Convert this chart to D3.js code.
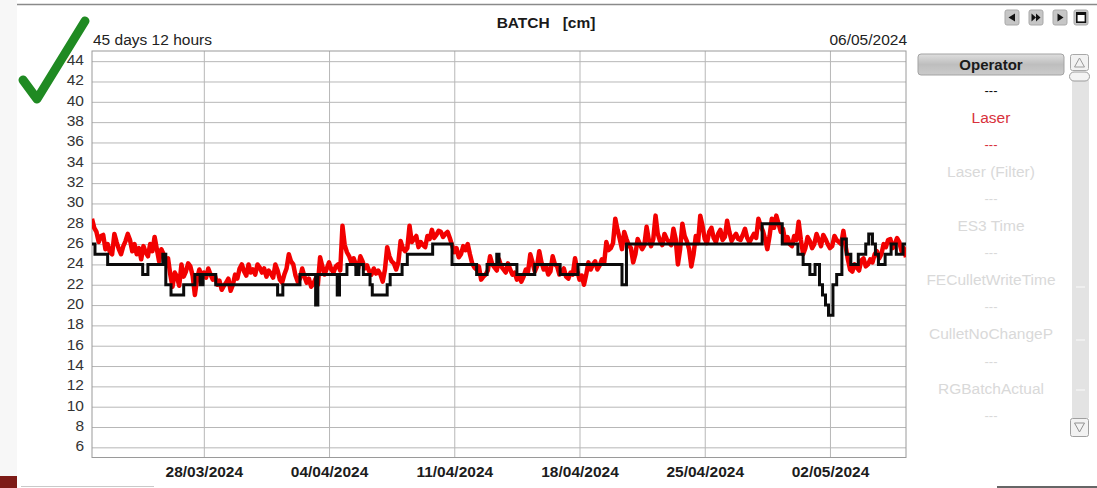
<!DOCTYPE html>
<html>
<head>
<meta charset="utf-8">
<script src="https://cdn.jsdelivr.net/npm/d3@7"></script>
<style>
  html, body { margin: 0; padding: 0; background: #ffffff; overflow: hidden; }
  svg { display: block; font-family: Arial, "Liberation Sans", sans-serif; }
</style>
</head>
<body>
<svg id="chart" width="1097" height="488"></svg>
<script>
// ---- data ---------------------------------------------------------------
const chartTitle = "BATCH   [cm]";
const spanLabel = "45 days 12 hours";
const endLabel = "06/05/2024";
const rangeStart = "2024-03-21T18:00";
const rangeEnd = "2024-05-06T06:00";

// Laser level, one reading every 3 hours from rangeStart
const laserStepHours = 3;
const laserValues = [
  28.5, 27.6, 27.2, 26.2, 26.8, 26.9, 25.5, 26.0, 25.2, 25.0,
  27.0, 26.2, 25.5, 25.0, 25.8, 26.3, 27.0, 26.4, 25.3, 26.0,
  25.0, 25.6, 24.5, 25.8, 25.2, 24.8, 26.0, 25.3, 26.7, 25.5,
  24.3, 25.5, 25.0, 24.4, 24.6, 23.0, 21.8, 23.2, 22.8, 21.9,
  24.0, 22.8, 23.3, 24.1, 23.8, 22.9, 21.0, 22.6, 23.5, 22.8,
  23.2, 22.7, 23.6, 23.0, 22.5, 22.9, 22.0, 22.4, 21.5, 21.9,
  22.2, 22.6, 21.4, 22.0, 23.0, 22.6, 23.6, 24.0, 23.3, 22.9,
  24.0, 23.2, 23.5, 23.0, 24.0, 23.7, 23.2, 23.6, 22.8, 23.4,
  23.1, 22.7, 24.0, 23.4, 22.5, 22.2, 23.0, 23.6, 25.0, 24.3,
  24.0, 22.9, 22.3, 22.6, 23.6, 22.8, 22.2, 22.6, 21.8, 22.1,
  22.6, 22.0, 24.7, 23.8, 23.0, 23.6, 24.2, 23.5, 23.2, 23.8,
  24.0, 23.4, 27.8, 25.9, 25.2, 24.8, 24.2, 24.6, 24.0, 23.6,
  24.8, 24.3, 23.6, 23.9, 23.3, 23.0, 23.6, 23.1, 23.4, 23.0,
  22.3, 23.5, 25.7, 24.8, 24.3, 24.1, 23.5, 24.2, 26.3, 25.6,
  25.3, 25.6, 27.8, 26.2, 26.5, 26.8, 25.7, 26.2, 25.9, 25.7,
  26.8, 26.5, 27.4, 26.6, 26.9, 27.3, 27.2, 26.7, 27.0, 27.2,
  26.6, 25.9, 25.2, 25.6, 24.7, 25.0, 25.8, 25.4, 26.0, 25.0,
  24.1, 23.7, 23.5, 23.8, 22.5, 22.8, 23.0, 23.4, 24.8, 24.0,
  23.7, 23.4, 24.5, 23.8, 23.5, 23.2, 24.1, 23.5, 23.0, 23.2,
  22.5, 22.9, 22.3, 22.8, 23.5, 23.3, 25.0, 24.2, 23.3, 23.8,
  25.3, 24.2, 23.5, 23.9, 23.0, 23.3, 24.8, 24.0, 23.8, 23.0,
  23.3, 23.6, 22.8, 22.6, 23.2, 23.0, 24.6, 23.4, 22.5, 22.9,
  22.0, 23.0, 24.2, 23.5, 24.0, 24.3, 23.5, 23.9, 24.5, 24.1,
  26.2, 25.4, 25.6, 26.1, 28.5, 27.4, 26.5, 25.5, 27.2, 26.5,
  25.9, 25.6, 24.2, 25.0, 26.5, 26.0, 25.5, 25.9, 27.7, 26.4,
  25.8, 26.5, 28.8, 27.0, 26.3, 25.9, 27.0, 26.5, 26.2, 25.9,
  27.5, 26.5, 24.0, 25.5, 28.0, 26.8, 26.3, 25.5, 23.8, 25.0,
  26.8, 26.1, 28.8, 27.8, 26.5, 26.1, 27.2, 27.6, 26.6, 26.2,
  27.0, 27.4, 26.4, 26.7, 28.3, 27.2, 26.3, 26.7, 27.0, 26.5,
  26.4, 26.9, 27.5, 26.6, 26.2, 26.6, 27.0, 26.6, 28.5, 27.8,
  27.3, 26.5, 25.5, 26.8, 28.5, 27.6, 28.8, 28.0, 27.2, 27.5,
  26.2, 26.7, 26.0, 25.8, 26.8, 26.4, 28.2, 26.4, 25.0, 25.6,
  26.7, 26.3, 25.6, 26.0, 27.0, 26.4, 25.8, 26.9, 26.5, 26.0,
  25.6, 25.8, 26.8, 26.4, 26.2, 26.0, 27.3, 25.8, 24.5, 23.5,
  23.3, 24.0, 23.7, 23.4, 24.4, 24.6, 23.8, 24.0, 24.5, 24.2,
  25.0, 25.3, 24.6, 25.0, 26.0, 25.7, 26.4, 26.5, 25.6, 26.0,
  26.6, 26.2, 25.3, 25.6, 24.7
];

// Operator setpoint: value holds from each time until the next one
const operatorTimes = [
  "2024-03-21T18:00", "2024-03-21T22:00", "2024-03-22T15:00", "2024-03-24T14:00",
  "2024-03-24T21:00", "2024-03-25T17:00", "2024-03-25T21:00", "2024-03-26T04:00",
  "2024-03-26T21:00", "2024-03-27T12:00", "2024-03-27T19:00", "2024-03-27T23:00",
  "2024-03-28T16:00", "2024-04-01T03:00", "2024-04-01T10:00", "2024-04-02T09:00",
  "2024-04-03T06:00", "2024-04-03T09:00", "2024-04-04T11:00", "2024-04-04T14:00",
  "2024-04-05T00:00", "2024-04-05T12:00", "2024-04-05T16:00", "2024-04-05T22:00",
  "2024-04-06T07:00", "2024-04-06T10:00", "2024-04-07T06:00", "2024-04-07T10:00",
  "2024-04-08T02:00", "2024-04-08T09:00", "2024-04-09T19:00", "2024-04-10T21:00",
  "2024-04-12T06:00", "2024-04-12T20:00", "2024-04-13T09:00", "2024-04-13T12:00",
  "2024-04-14T12:00", "2024-04-15T12:00", "2024-04-16T22:00", "2024-04-17T22:00",
  "2024-04-20T09:00", "2024-04-20T15:00", "2024-04-28T05:00", "2024-04-29T08:00",
  "2024-04-30T05:00", "2024-04-30T12:00", "2024-04-30T21:00", "2024-05-01T04:00",
  "2024-05-01T10:00", "2024-05-01T14:00", "2024-05-01T18:00", "2024-05-01T22:00",
  "2024-05-02T04:00", "2024-05-02T09:00", "2024-05-02T16:00", "2024-05-02T22:00",
  "2024-05-03T04:00", "2024-05-03T14:00", "2024-05-04T00:00", "2024-05-04T04:00",
  "2024-05-04T09:00", "2024-05-04T13:00", "2024-05-04T17:00", "2024-05-05T02:00",
  "2024-05-05T10:00", "2024-05-05T17:00", "2024-05-06T02:00"
];
const operatorValues = [
  26, 25, 24, 23,
  24, 25, 22, 21,
  22, 23, 22, 23,
  22, 21, 22, 23,
  20, 23, 21, 23,
  24, 23, 24, 23,
  22, 21, 22, 23,
  24, 25, 26, 24,
  23, 24, 25, 24,
  23, 24, 23, 24,
  22, 26, 28, 26,
  25, 24, 23, 24,
  22, 21, 20, 19,
  22, 23, 26.5, 25,
  24, 25, 26, 27,
  26, 25, 24, 25,
  26, 25, 26
];

const yTickValues = [6, 8, 10, 12, 14, 16, 18, 20, 22, 24, 26, 28, 30, 32, 34, 36, 38, 40, 42, 44];
const xTickLabels = ["28/03/2024", "04/04/2024", "11/04/2024", "18/04/2024", "25/04/2024", "02/05/2024"];

const panelHeader = "Operator";
const panelLabels = [
  "---", "Laser", "---", "Laser (Filter)", "---", "ES3 Time", "---",
  "FECulletWriteTime", "---", "CulletNoChangeP", "---", "RGBatchActual", "---"
];

// ---- layout -------------------------------------------------------------
const svg = d3.select("#chart");
const plot = { left: 92, right: 906, top: 51, bottom: 457.5 };
const colors = {
  laser: "#f20000",
  operator: "#0b0b0b",
  grid: "#b7b7b7",
  frame: "#9a9a9a",
  label: "#333333",
  laserText: "#d8313c",
  muted: "#d9d9d9"
};

const parseStamp = d3.timeParse("%Y-%m-%dT%H:%M");
const parseDay = d3.timeParse("%d/%m/%Y");
const t0 = parseStamp(rangeStart);
const t1 = parseStamp(rangeEnd);

const x = d3.scaleTime().domain([t0, t1]).range([plot.left, plot.right]);
const y = d3.scaleLinear().domain([5, 45]).range([plot.bottom, plot.top]);

// page chrome
svg.append("rect").attr("x", 0).attr("y", 0).attr("width", 17).attr("height", 488).attr("fill", "#f7f7f7");
svg.append("line").attr("x1", 17).attr("x2", 1097).attr("y1", 4.5).attr("y2", 4.5)
  .attr("stroke", "#8a8a8a").attr("stroke-width", 1.5);
svg.append("rect").attr("x", 0).attr("y", 476).attr("width", 17).attr("height", 12).attr("fill", "#7d1b17");
svg.append("line").attr("x1", 21).attr("x2", 154).attr("y1", 486.5).attr("y2", 486.5)
  .attr("stroke", "#c9c9c9").attr("stroke-width", 1);
svg.append("line").attr("x1", 997).attr("x2", 1097).attr("y1", 487).attr("y2", 487)
  .attr("stroke", "#666").attr("stroke-width", 2);

// plot background
svg.append("rect")
  .attr("x", plot.left).attr("y", plot.top)
  .attr("width", plot.right - plot.left).attr("height", plot.bottom - plot.top)
  .attr("fill", "#ffffff");

// horizontal grid + value labels
const yAxis = svg.append("g")
  .attr("transform", `translate(${plot.left},0)`)
  .call(d3.axisLeft(y).tickValues(yTickValues).tickFormat(d3.format("d"))
    .tickSize(-(plot.right - plot.left)).tickPadding(8));
yAxis.select(".domain").remove();
yAxis.selectAll(".tick line").attr("stroke", colors.grid).attr("stroke-width", 1);
yAxis.selectAll(".tick text")
  .attr("fill", colors.label).attr("font-size", "15.5px")
  .attr("font-family", 'Arial, "Liberation Sans", sans-serif')
  .attr("dy", "0.22em");

// vertical grid + date labels
const xTicks = xTickLabels.map(parseDay);
const xAxis = svg.append("g")
  .attr("transform", `translate(0,${plot.bottom})`)
  .call(d3.axisBottom(x).tickValues(xTicks).tickFormat(d3.timeFormat("%d/%m/%Y"))
    .tickSize(-(plot.bottom - plot.top)).tickPadding(8.5));
xAxis.select(".domain").remove();
xAxis.selectAll(".tick line").attr("stroke", colors.grid).attr("stroke-width", 1);
xAxis.selectAll(".tick text")
  .attr("fill", "#1c1c1c").attr("font-size", "15.5px").attr("font-weight", "bold")
  .attr("font-family", 'Arial, "Liberation Sans", sans-serif');

// frame
svg.append("rect")
  .attr("x", plot.left).attr("y", plot.top)
  .attr("width", plot.right - plot.left).attr("height", plot.bottom - plot.top)
  .attr("fill", "none").attr("stroke", colors.frame).attr("stroke-width", 1);

// series
svg.append("clipPath").attr("id", "plotClip").append("rect")
  .attr("x", plot.left).attr("y", plot.top)
  .attr("width", plot.right - plot.left).attr("height", plot.bottom - plot.top);

const laserPoints = laserValues.map((v, i) => ({
  t: d3.timeHour.offset(t0, i * laserStepHours), v
}));
const operatorPoints = operatorTimes.map((s, i) => ({ t: parseStamp(s), v: operatorValues[i] }));
operatorPoints.push({ t: t1, v: operatorValues[operatorValues.length - 1] });

const series = svg.append("g").attr("clip-path", "url(#plotClip)");

series.append("path")
  .datum(laserPoints)
  .attr("fill", "none")
  .attr("stroke", colors.laser)
  .attr("stroke-width", 4.5)
  .attr("stroke-linejoin", "round")
  .attr("d", d3.line().x(d => x(d.t)).y(d => y(d.v)));

series.append("path")
  .datum(operatorPoints)
  .attr("fill", "none")
  .attr("stroke", colors.operator)
  .attr("stroke-width", 3)
  .attr("d", d3.line().curve(d3.curveStepAfter).x(d => x(d.t)).y(d => y(d.v)));

// header texts
svg.append("text")
  .attr("x", 546).attr("y", 28)
  .attr("text-anchor", "middle")
  .attr("font-size", "15.5px").attr("font-weight", "bold").attr("fill", "#1a1a1a")
  .style("white-space", "pre")
  .text(chartTitle);
svg.append("text")
  .attr("x", 93).attr("y", 45)
  .attr("font-size", "15.5px").attr("fill", "#222")
  .text(spanLabel);
svg.append("text")
  .attr("x", 907).attr("y", 45)
  .attr("text-anchor", "end")
  .attr("font-size", "15.5px").attr("fill", "#222")
  .text(endLabel);

// check mark
svg.append("path")
  .attr("d", "M23,80 L37,99 L85,21")
  .attr("fill", "none")
  .attr("stroke", "#1f8a22")
  .attr("stroke-width", 9)
  .attr("stroke-linecap", "round")
  .attr("stroke-linejoin", "round");

// navigation buttons
const navX = [1005, 1029, 1053, 1074];
const navIcons = [
  "M1015,13.5 L1008.5,17.5 L1015,21.5 Z",
  "M1031.5,13.5 L1036,17.5 L1031.5,21.5 Z M1036,13.5 L1040.5,17.5 L1036,21.5 Z",
  "M1057.5,13.5 L1063.5,17.5 L1057.5,21.5 Z",
  ""
];
const nav = svg.append("g");
navX.forEach((nx, i) => {
  nav.append("rect").attr("x", nx).attr("y", 10).attr("width", 14).attr("height", 15)
    .attr("rx", 2).attr("fill", "#c6c6c6").attr("stroke", "#a9a9a9");
  if (navIcons[i]) nav.append("path").attr("d", navIcons[i]).attr("fill", "#111");
});
nav.append("rect").attr("x", 1076.8).attr("y", 12.8).attr("width", 8.6).attr("height", 9.4)
  .attr("fill", "#fff").attr("stroke", "#111").attr("stroke-width", 1.6);
nav.append("rect").attr("x", 1076.8).attr("y", 12.8).attr("width", 8.6).attr("height", 2.2).attr("fill", "#111");

// side panel
const defs = svg.append("defs");
const grad = defs.append("linearGradient").attr("id", "btnGrad")
  .attr("x1", 0).attr("y1", 0).attr("x2", 0).attr("y2", 1);
grad.append("stop").attr("offset", "0%").attr("stop-color", "#dedede");
grad.append("stop").attr("offset", "50%").attr("stop-color", "#bebebe");
grad.append("stop").attr("offset", "100%").attr("stop-color", "#cbcbcb");

svg.append("rect").attr("x", 918).attr("y", 54).attr("width", 146).attr("height", 21)
  .attr("rx", 3).attr("fill", "url(#btnGrad)").attr("stroke", "#a3a3a3");
svg.append("text").attr("x", 991).attr("y", 64.5)
  .attr("text-anchor", "middle").attr("dominant-baseline", "central")
  .attr("font-size", "15px").attr("font-weight", "bold").attr("fill", "#1a1a1a")
  .text(panelHeader);

const toneOf = i => (i === 0 ? colors.operator : i <= 2 ? colors.laserText : colors.muted);
svg.append("g").selectAll("text")
  .data(panelLabels)
  .join("text")
  .attr("x", 991)
  .attr("y", (d, i) => 90 + i * 27.1)
  .attr("text-anchor", "middle")
  .attr("dominant-baseline", "central")
  .attr("font-size", d => (d === "---" ? "13px" : "15.5px"))
  .attr("fill", (d, i) => toneOf(i))
  .text(d => d);

// scrollbar
const sb = svg.append("g");
sb.append("rect").attr("x", 1072).attr("y", 80).attr("width", 17).attr("height", 338).attr("fill", "#e3e3e3");
[287, 340, 390].forEach(ty => {
  sb.append("line").attr("x1", 1076).attr("x2", 1085).attr("y1", ty).attr("y2", ty)
    .attr("stroke", "#f3f3f3").attr("stroke-width", 1.5);
});
sb.append("rect").attr("x", 1070.5).attr("y", 54.5).attr("width", 18).attr("height", 16)
  .attr("rx", 2).attr("fill", "#f2f2f2").attr("stroke", "#a8a8a8");
sb.append("path").attr("d", "M1079.5,58 L1084.5,67 L1074.5,67 Z").attr("fill", "none").attr("stroke", "#9a9a9a");
sb.append("rect").attr("x", 1069.5).attr("y", 72).attr("width", 20).attr("height", 9)
  .attr("rx", 4.5).attr("fill", "#f4f4f4").attr("stroke", "#9d9d9d");
sb.append("rect").attr("x", 1070.5).attr("y", 418.5).attr("width", 18).attr("height", 18)
  .attr("rx", 2).attr("fill", "#f2f2f2").attr("stroke", "#a0a0a0");
sb.append("path").attr("d", "M1074.5,423 L1084.5,423 L1079.5,432 Z").attr("fill", "none").attr("stroke", "#909090");
</script>
</body>
</html>
